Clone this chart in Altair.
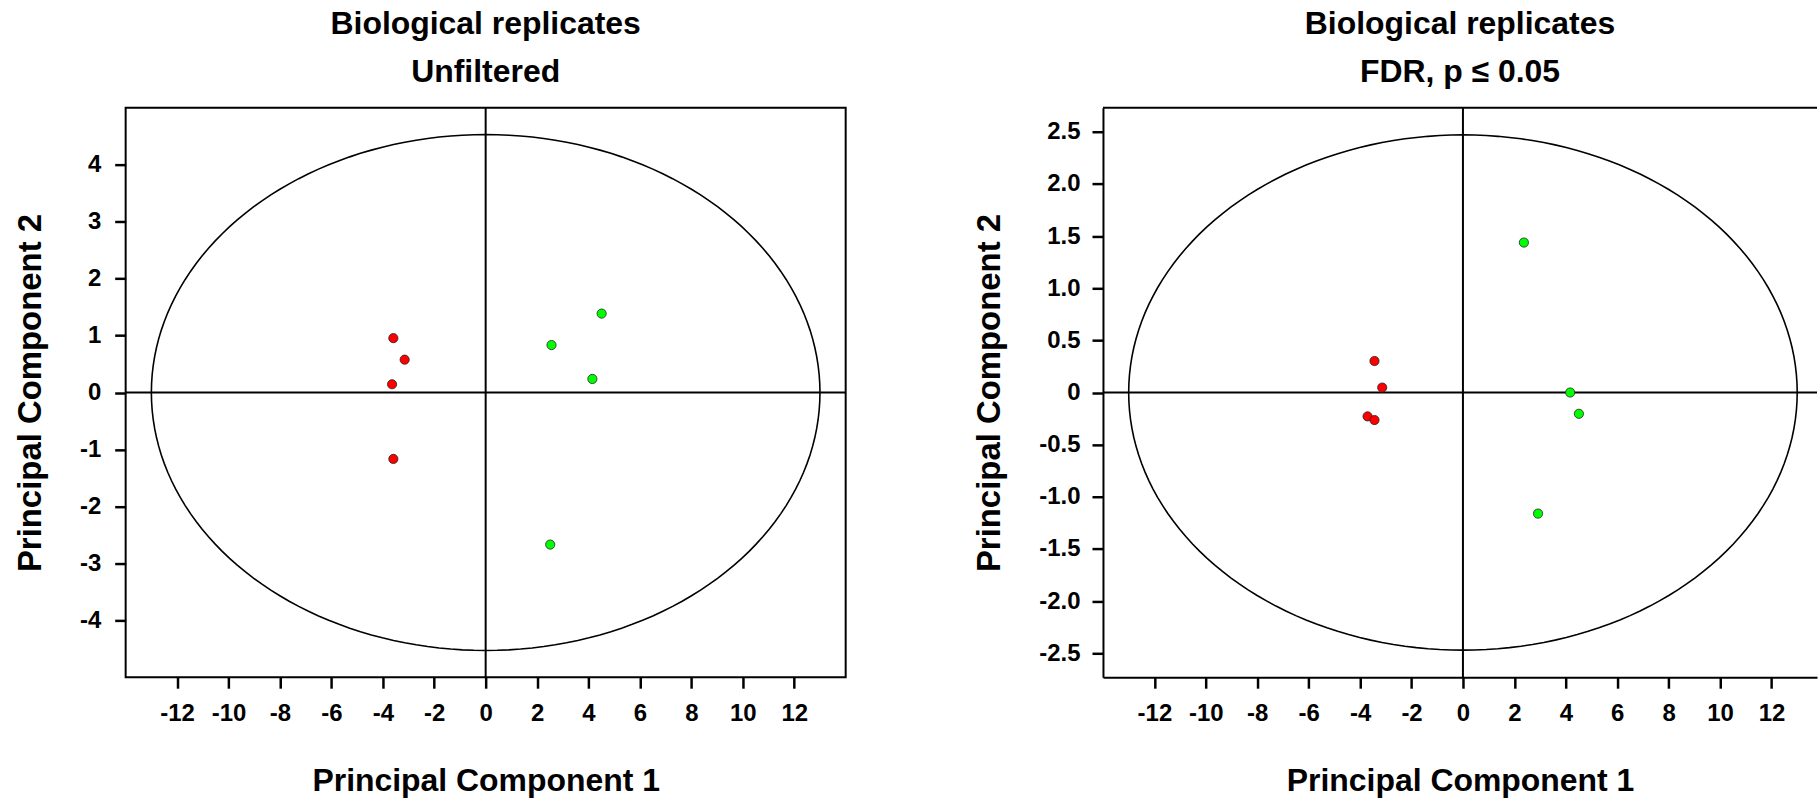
import altair as alt
import pandas as pd

# ---- data ----
groups = ["A", "A", "A", "A", "B", "B", "B", "B"]

left_pc1 = [-3.59, -3.15, -3.64, -3.59, 4.51, 2.56, 4.15, 2.51]
left_pc2 = [0.955, 0.577, 0.145, -1.166, 1.386, 0.833, 0.238, -2.67]

right_pc1 = [-3.44, -3.14, -3.71, -3.44, 2.37, 4.17, 4.51, 2.92]
right_pc2 = [0.302, 0.047, -0.229, -0.264, 1.438, 0.0, -0.204, -1.161]

x_ticks = [-12, -10, -8, -6, -4, -2, 0, 2, 4, 6, 8, 10, 12]
left_y_ticks = [-4, -3, -2, -1, 0, 1, 2, 3, 4]
right_y_ticks = [-2.5, -2.0, -1.5, -1.0, -0.5, 0, 0.5, 1.0, 1.5, 2.0, 2.5]

left_x_domain = [-14, 14]
right_x_domain = [-14, 13.77]   # right panel runs off the page edge in the reference
left_y_domain = [-5, 5]
right_y_domain = [-2.73, 2.73]

left_ellipse = (13.0, 4.53)   # semi-axes (PC1, PC2)
right_ellipse = (13.0, 2.47)

left_title = ["Biological replicates", "Unfiltered"]
right_title = ["Biological replicates", "FDR, p \u2264 0.05"]

group_domain = ["A", "B"]
group_colors = ["#ff0000", "#00ff00"]

FONT = "Liberation Sans"
int_label = "datum.value < 0 ? '-' + abs(datum.value) : '' + datum.value"
dec_label = "datum.value == 0 ? '0' : (datum.value < 0 ? '-' : '') + format(abs(datum.value), '.1f')"


def panel(pc1, pc2, title, x_domain, y_domain, y_ticks, ellipse, y_label_expr, y_label_pad,
          width, open_right):
    df = pd.DataFrame({"pc1": pc1, "pc2": pc2, "group": groups})
    zero = pd.DataFrame({"zero": [0.0]})
    top = pd.DataFrame({"top": [y_domain[1]]})
    xs = alt.Scale(domain=x_domain, nice=False, zero=False)
    ys = alt.Scale(domain=y_domain, nice=False, zero=False)
    xa = alt.Axis(values=x_ticks, title="Principal Component 1", labelExpr=int_label,
                  domain=open_right)
    ya = alt.Axis(values=y_ticks, title="Principal Component 2", labelExpr=y_label_expr,
                  labelPadding=y_label_pad, domain=open_right)

    rx, ry = ellipse
    ell = (
        alt.Chart(alt.sequence(0, 361, 2, as_="t"))
        .transform_calculate(ex=f"{rx}*cos(datum.t*PI/180)", ey=f"{ry}*sin(datum.t*PI/180)")
        .mark_line(color="black", strokeWidth=1.6)
        .encode(x=alt.X("ex:Q", scale=xs, axis=xa), y=alt.Y("ey:Q", scale=ys, axis=ya),
                order=alt.Order("t:Q"))
    )
    vline = alt.Chart(zero).mark_rule(color="black", strokeWidth=2).encode(
        x=alt.X("zero:Q", scale=xs, axis=xa))
    hline = alt.Chart(zero).mark_rule(color="black", strokeWidth=2).encode(
        y=alt.Y("zero:Q", scale=ys, axis=ya))
    pts = alt.Chart(df).mark_circle(size=85, opacity=1, stroke="#222222", strokeWidth=0.8).encode(
        x=alt.X("pc1:Q", scale=xs, axis=xa),
        y=alt.Y("pc2:Q", scale=ys, axis=ya),
        color=alt.Color("group:N", scale=alt.Scale(domain=group_domain, range=group_colors), legend=None),
    )
    layers = [ell, vline, hline, pts]
    props = dict(width=width, height=571, title=alt.Title(title))
    if open_right:
        topline = alt.Chart(top).mark_rule(color="black", strokeWidth=2).encode(
            y=alt.Y("top:Q", scale=ys, axis=ya))
        layers.append(topline)
        props["view"] = alt.ViewBackground(stroke="transparent")
    return alt.layer(*layers).properties(**props)


left = panel(left_pc1, left_pc2, left_title, left_x_domain, left_y_domain, left_y_ticks,
             left_ellipse, int_label, 14, 722, False)
right = panel(right_pc1, right_pc2, right_title, right_x_domain, right_y_domain, right_y_ticks,
              right_ellipse, dec_label, 12, 716, True)

chart = (
    alt.hconcat(left, right, spacing=258, bounds="flush")
    .properties(padding={"left": 13, "top": 6, "right": 0, "bottom": 0}, background="white")
    .configure_view(stroke="black", strokeWidth=2)
    .configure_axis(
        grid=False,
        domainColor="black", domainWidth=2,
        labelFont=FONT, labelFontWeight="bold", labelFontSize=24, labelColor="black",
        tickColor="black", tickWidth=2.5, tickSize=11,
        titleFont=FONT, titleFontWeight="bold", titleColor="black",
    )
    .configure_axisX(labelPadding=13, titleFontSize=32, titlePadding=41)
    .configure_axisY(titleFontSize=33, titlePadding=32)
    .configure_title(font=FONT, fontSize=32, fontWeight="bold", color="black",
                     lineHeight=48, baseline="bottom", offset=18, anchor="middle")
)

chart.save("out.html", embed_options={"renderer": "svg", "actions": False})
